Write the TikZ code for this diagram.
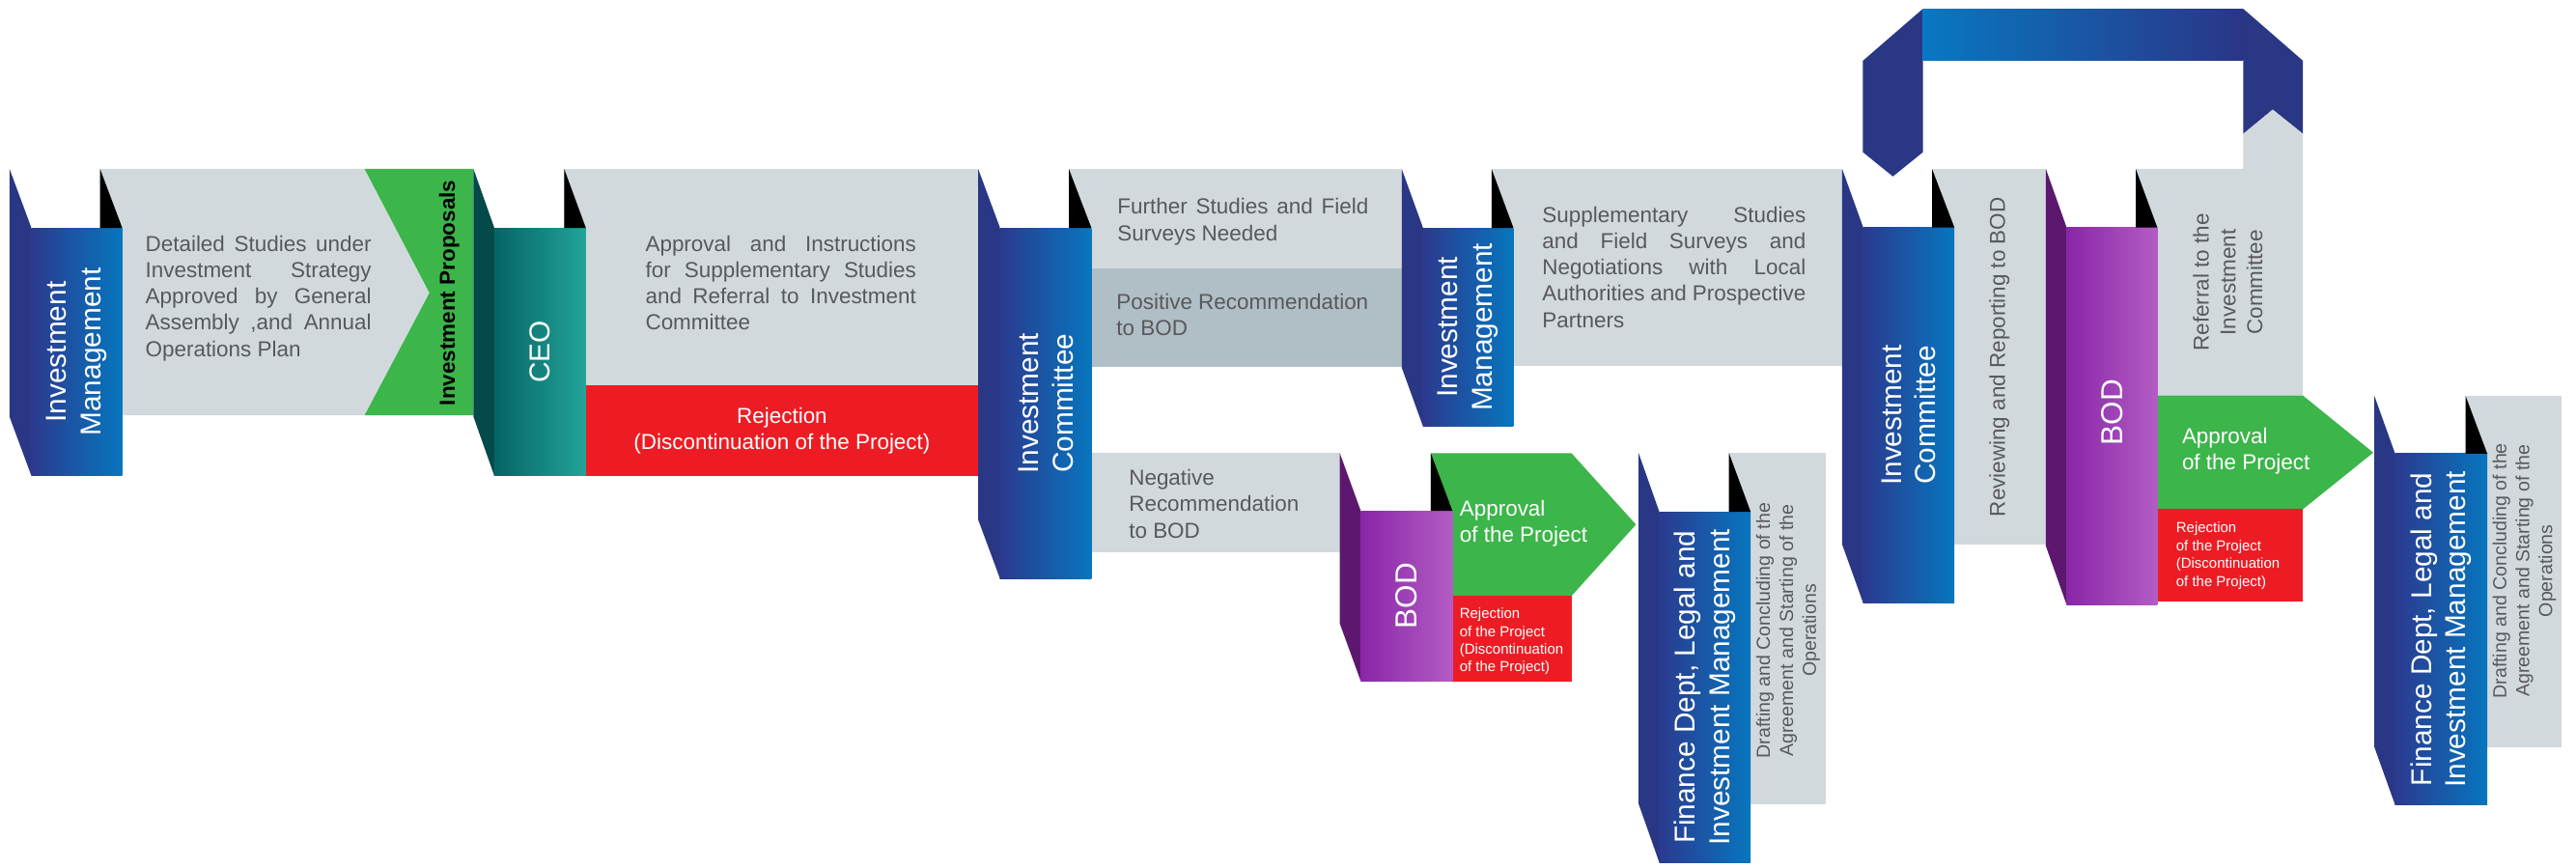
\documentclass[tikz,border=0pt]{standalone}
\usepackage{fontspec}
\setmainfont{Liberation Sans}
\definecolor{navy}{HTML}{2A3785}
\definecolor{bluL}{HTML}{2B3A8F}
\definecolor{bluR}{HTML}{0776BE}
\definecolor{tealS}{HTML}{044A4A}
\definecolor{tealL}{HTML}{056464}
\definecolor{tealR}{HTML}{23A498}
\definecolor{purS}{HTML}{5B186E}
\definecolor{purL}{HTML}{8926A7}
\definecolor{purR}{HTML}{B35CC4}
\definecolor{grn}{HTML}{3CB54A}
\definecolor{rd}{HTML}{ED1C24}
\definecolor{lg}{HTML}{D2D9DD}
\definecolor{dg}{HTML}{B0BEC5}
\definecolor{gt}{HTML}{58595B}
\definecolor{ribL}{HTML}{0878C1}
\definecolor{ribR}{HTML}{2B3587}
\newcommand\jl[2]{\makebox[#1][s]{#2}}
\newcommand\up{\rule{0pt}{.8em}}
\newcommand\blk[8]{%
 \fill[#1side] (#2,#5) -- (#3,#6) -- (#3,#7) -- (#2,{#7-#6+#5}) -- cycle;
 \shade[#1front] (#3,#6) rectangle (#4,#7);
 \fill[black] (#8,#5) -- (#4,#6) -- (#8,#6) -- cycle;
}
\tikzset{
 bluside/.style={fill=navy},
 blufront/.style={left color=bluL,right color=bluR},
 tealside/.style={fill=tealS},
 tealfront/.style={left color=tealL,right color=tealR},
 purside/.style={fill=purS},
 purfront/.style={left color=purL,right color=purR},
 vt/.style={rotate=90,align=center,inner sep=0pt,text=white,font=\fontsize{17.5}{21}\selectfont},
 vtb/.style={rotate=90,align=center,inner sep=0pt,text=white,font=\fontsize{18.5}{21}\selectfont},
 vg/.style={rotate=90,align=center,inner sep=0pt,text=gt,font=\fontsize{11.5}{14}\selectfont},
 vgm/.style={rotate=90,align=center,inner sep=0pt,text=gt,font=\fontsize{13.2}{16.3}\selectfont},
 gp/.style={anchor=north west,align=left,inner sep=0pt,text=gt,font=\fontsize{13.2}{16}\selectfont},
 wp/.style={anchor=north west,align=left,inner sep=0pt,text=white,font=\fontsize{13.2}{16}\selectfont},
 ws/.style={anchor=north west,align=left,inner sep=0pt,text=white,font=\fontsize{8.8}{10.8}\selectfont},
}
\begin{document}
\begin{tikzpicture}[x=1pt,y=-1pt]
\useasboundingbox (0,0) rectangle (1568,528);
\fill[white] (0,0) rectangle (1568,528);
% top ribbon
\fill[navy] (1133.9,37) -- (1170.5,5.3) -- (1170.5,92.6) -- (1152.2,107.4) -- (1133.9,92.6) -- cycle;
\shade[left color=ribL,right color=ribR] (1170.5,5.3) rectangle (1365.4,37);
\fill[navy] (1365.4,5.3) -- (1401.8,37) -- (1401.8,81.5) -- (1383.4,66.7) -- (1365.4,81.5) -- cycle;
% bands
\fill[lg] (60.9,102.8) -- (221.9,102.8) -- (261.4,178.3) -- (221.9,252.8) -- (60.9,252.8) -- cycle;
\fill[grn] (221.9,102.8) -- (288.2,102.8) -- (288.2,252.8) -- (221.9,252.8) -- (261.4,178.3) -- cycle;
\fill[lg] (343.4,102.8) rectangle (595.4,234.5);
\fill[rd] (356.6,234.5) rectangle (595.4,289.6);
\fill[lg] (650.6,102.8) rectangle (853.2,163.2);
\fill[dg] (664.3,163.2) rectangle (853.2,223.3);
\fill[lg] (664.3,275.8) rectangle (815.5,336);
\fill[lg] (907.9,102.8) rectangle (1121.3,223);
\fill[grn] (870.9,275.8) -- (956.5,275.8) -- (995.8,319.3) -- (956.5,362.8) -- (870.9,362.8) -- cycle;
\fill[rd] (884.1,362.8) rectangle (956.5,414.7);
\fill[lg] (1052.4,275.8) rectangle (1111.2,489.8);
\fill[lg] (1176,102.8) rectangle (1245.3,331.7);
\fill[lg] (1300,102.8) -- (1365.4,102.8) -- (1365.4,81.5) -- (1383.4,66.7) -- (1401.8,81.5) -- (1401.8,240.8) -- (1300,240.8) -- cycle;
\fill[grn] (1313.1,240.8) -- (1401.8,240.8) -- (1444.6,275.5) -- (1401.8,309.9) -- (1313.1,309.9) -- cycle;
\fill[rd] (1313.1,309.9) rectangle (1401.8,366.4);
\fill[lg] (1500.7,240.8) rectangle (1559,454.7);
% blocks
\blk{blu}{5.8}{19.1}{74.4}{102.8}{138.7}{289.6}{60.9}
\blk{teal}{288.2}{300.9}{356.6}{102.8}{138.7}{289.6}{343.4}
\blk{blu}{595.4}{608.7}{664.3}{102.8}{138.7}{352.2}{650.6}
\blk{blu}{853.2}{866.2}{921.2}{102.8}{138.7}{259.6}{907.9}
\blk{pur}{815.5}{828.3}{884.1}{275.8}{311}{414.7}{870.9}
\blk{blu}{997.4}{1010}{1065.6}{275.8}{311.5}{525}{1052.4}
\blk{blu}{1121.3}{1134.1}{1189.6}{102.8}{138.4}{367}{1176}
\blk{pur}{1245.3}{1257.9}{1313.1}{102.8}{138.4}{368}{1300}
\blk{blu}{1445.2}{1457.9}{1514}{240.8}{276.2}{490}{1500.7}
% block titles
\node[vt] (imA) at (46.75,214.2) {Investment\\Management};
\node[vt] (ceo) at (328.75,214.2) {CEO};
\node[vt] (icC) at (636.5,245.5) {Investment\\Committee};
\node[vt] (imD) at (893.7,199.2) {Investment\\Management};
\node[vtb] (bodE) at (856.2,362.8) {BOD};
\node[vt] (finF) at (1037.8,418.3) {Finance Dept, Legal and\\Investment Management};
\node[vt] (icG) at (1161.8,252.7) {Investment\\Committee};
\node[vtb] (bodH) at (1285.5,251) {BOD};
\node[vt] (finI) at (1485.9,383.1) {Finance Dept, Legal and\\Investment Management};
\node[rotate=90,inner sep=0pt,text=black,font=\fontsize{13.2}{16}\selectfont\bfseries] (prop) at (273.5,178.3) {Investment Proposals};
% band texts
\node[gp] (tA) at (88.3,142.1) {\jl{137.6pt}{\up Detailed Studies under}\\\jl{137.6pt}{Investment Strategy}\\\jl{137.6pt}{Approved by General}\\\jl{137.6pt}{Assembly ,and Annual}\\Operations Plan};
\node[gp] (tB) at (392.7,142.1) {\jl{164.8pt}{\up Approval and Instructions}\\\jl{164.8pt}{for Supplementary Studies}\\\jl{164.8pt}{and Referral to Investment}\\Committee};
\node[anchor=center,align=center,inner sep=0pt,text=white,font=\fontsize{13.2}{16}\selectfont] (rejB) at (476,262) {Rejection\\(Discontinuation of the Project)};
\node[gp] (tC1) at (680,119.6) {\jl{152.8pt}{\up Further Studies and Field}\\Surveys Needed};
\node[gp] (tC2) at (679.4,177.4) {\up Positive Recommendation\\to BOD};
\node[gp] (tC3) at (687,284.7) {\up Negative\\Recommendation\\to BOD};
\node[gp] (tD) at (938.6,124.5) {\jl{160.4pt}{\up Supplementary Studies}\\\jl{160.4pt}{and Field Surveys and}\\\jl{160.4pt}{Negotiations with Local}\\\jl{160.4pt}{Authorities and Prospective}\\Partners};
\node[wp] (apE) at (888.3,303.3) {\up Approval\\of the Project};
\node[ws] (rjE) at (888.3,369.3) {\up Rejection\\of the Project\\(Discontinuation\\of the Project)};
\node[vg] (drF) at (1088.4,383.8) {Drafting and Concluding of the\\Agreement and Starting of the\\Operations};
\node[vgm] (revG) at (1217,217.3) {Reviewing and Reporting to BOD};
\node[vgm] (refH) at (1356,171.8) {Referral to the\\Investment\\Committee};
\node[wp] (apH) at (1328,259.2) {\up Approval\\of the Project};
\node[ws] (rjH) at (1324.4,317.1) {\up Rejection\\of the Project\\(Discontinuation\\of the Project)};
\node[vg] (drI) at (1536.6,347.5) {Drafting and Concluding of the\\Agreement and Starting of the\\Operations};
\end{tikzpicture}
\end{document}
